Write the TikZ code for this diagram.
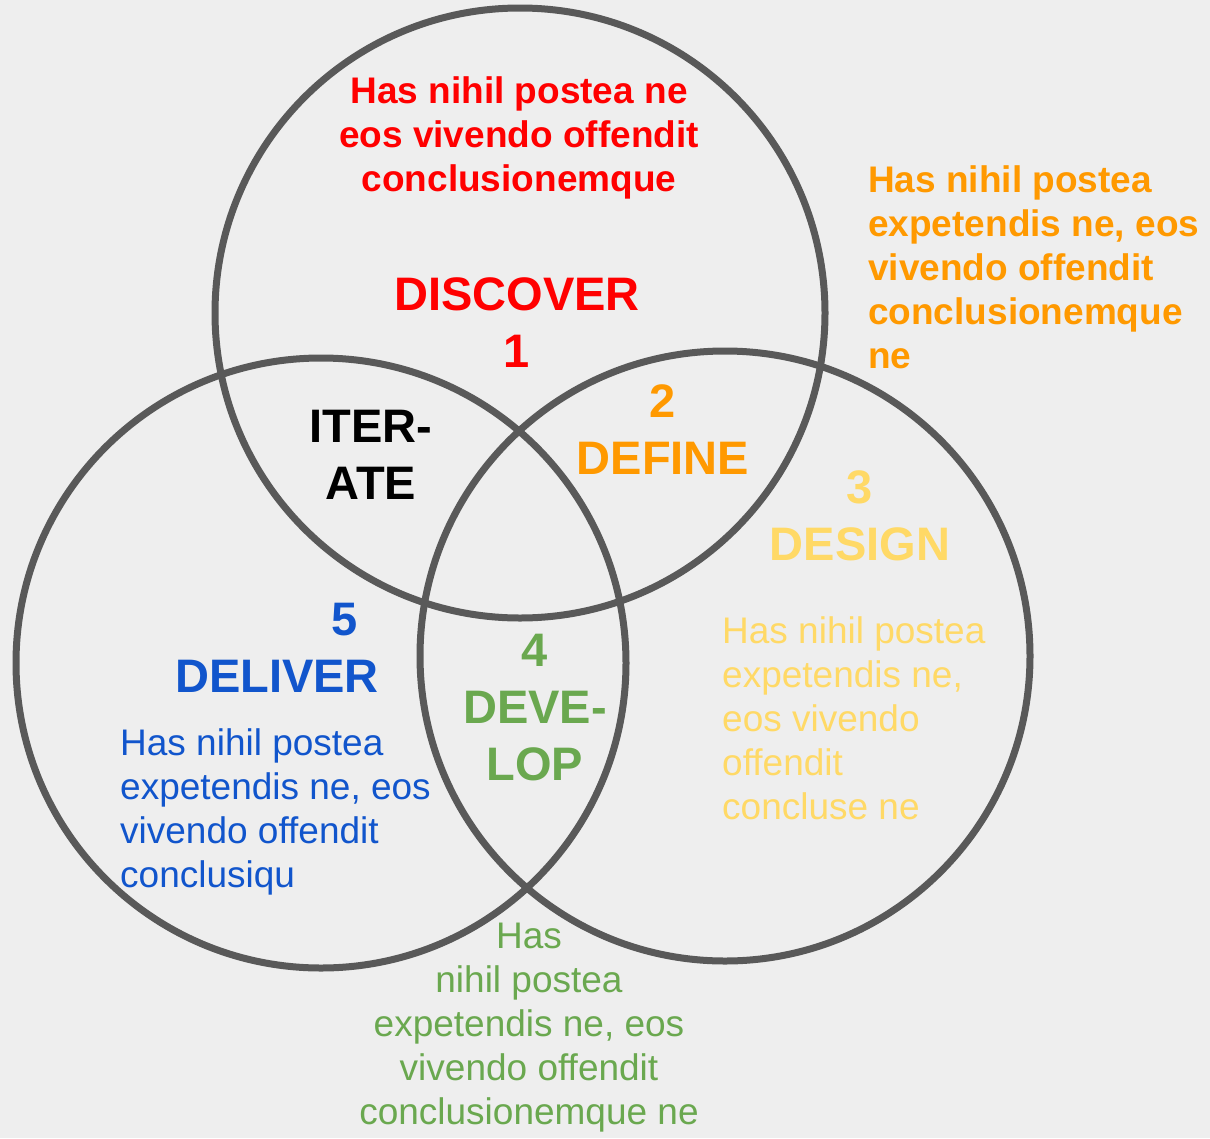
\documentclass[tikz,border=0pt]{standalone}
\usepackage{fontspec}
\setmainfont{Liberation Sans}
\usetikzlibrary{positioning}
\definecolor{bggray}{HTML}{EEEEEE}
\definecolor{ringgray}{HTML}{595959}
\definecolor{redc}{HTML}{FF0000}
\definecolor{orangec}{HTML}{FF9900}
\definecolor{yellowc}{HTML}{FFD966}
\definecolor{greenc}{HTML}{6AA84F}
\definecolor{bluec}{HTML}{1155CC}
\begin{document}
\begin{tikzpicture}[x=1pt, y=1pt,
    ring/.style={draw=ringgray, line width=7pt},
    body/.style={font=\fontsize{37}{44}\selectfont, inner sep=0pt},
    bodybold/.style={font=\fontsize{37}{44}\selectfont\bfseries, inner sep=0pt},
    head/.style={font=\fontsize{47}{57}\selectfont\bfseries, inner sep=0pt}]

    \fill[bggray] (0,0) rectangle (1210,-1138);
    \useasboundingbox (0,0) rectangle (1210,-1138);

    \draw[ring] (520,-313) circle (305);
    \draw[ring] (725,-656) circle (305);
    \draw[ring] (321,-663) circle (305);

    \node[bodybold, text=redc, align=center, anchor=base] (discovertxt) at (519,-191) {Has nihil postea ne\\eos vivendo offendit\\conclusionemque};
    \node[head, text=redc, align=center, anchor=base] (discover) at (517,-367) {DISCOVER\\1};

    \node[bodybold, text=orangec, align=left, anchor=base west] (definetxt) at (868,-368) {Has nihil postea\\expetendis ne, eos\\vivendo offendit\\conclusionemque\\ne};
    \node[head, text=orangec, align=center, anchor=base] (define) at (663,-474) {2\\DEFINE};

    \node[head, text=yellowc, align=center, anchor=base] (design) at (860,-560) {3\\DESIGN};
    \node[body, text=yellowc, align=left, anchor=base west] (designtxt) at (722,-819) {Has nihil postea\\expetendis ne,\\eos vivendo\\offendit\\concluse ne};

    \node[head, text=greenc, align=center, anchor=base] (develop) at (535,-780) {4\\DEVE-\\LOP};
    \node[body, text=greenc, align=center, anchor=base] (developtxt) at (529,-1124) {Has\\nihil postea\\expetendis ne, eos\\vivendo offendit\\conclusionemque ne};

    \node[head, text=bluec, anchor=base] (num5) at (345,-635) {5};
    \node[head, text=bluec, anchor=base] (deliver) at (277,-692) {DELIVER};
    \node[body, text=bluec, align=left, anchor=base west] (delivertxt) at (120,-887) {Has nihil postea\\expetendis ne, eos\\vivendo offendit\\conclusiqu};

    \node[head, align=center, anchor=base] (iterate) at (371,-499) {ITER-\\ATE};
\end{tikzpicture}
\end{document}
